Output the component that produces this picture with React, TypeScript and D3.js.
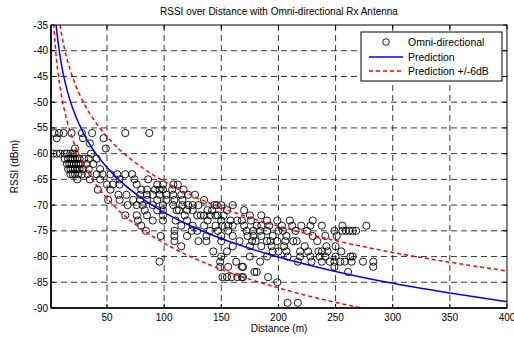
import React from "react";
import * as d3 from "d3";

const W = 514, H = 337;
const M = { left: 51, right: 507, top: 25, bottom: 308 };

const xTicks = [50, 100, 150, 200, 250, 300, 350, 400];
const yTicks = [-35, -40, -45, -50, -55, -60, -65, -70, -75, -80, -85, -90];

const predDist = [3, 4, 5, 6, 7, 10, 15, 20, 30, 40, 50, 60, 80, 100, 125, 150, 200, 250, 300, 350, 400];
const predRssi = [-27.4, -31.0, -33.8, -36.1, -38.0, -42.5, -47.6, -51.2, -56.3, -59.9, -62.7, -65.0, -68.6, -71.4, -74.2, -76.5, -80.1, -82.9, -85.2, -87.1, -88.8];
const upperRssi = [-21.4, -25.0, -27.8, -30.1, -32.0, -36.5, -41.6, -45.2, -50.3, -53.9, -56.7, -59.0, -62.6, -65.4, -68.2, -70.5, -74.1, -76.9, -79.2, -81.1, -82.8];
const lowerRssi = [-33.4, -37.0, -39.8, -42.1, -44.0, -48.5, -53.6, -57.2, -62.3, -65.9, -68.7, -71.0, -74.6, -77.4, -80.2, -82.5, -86.1, -88.9, -91.2, -93.1, -94.8];

// measured points: [distance (m), RSSI (dBm)]
const omniPoints: [number, number][] = [
  [4, -56], [8, -56], [12, -56], [19, -56], [28, -56], [37, -56], [66, -56], [87, -56],
  [6, -57], [29, -57], [47, -57], [35, -58], [22, -59], [49, -59],
  [3, -60], [6, -60], [9, -60], [13, -60], [15, -60], [18, -60], [20, -60], [22, -60], [36, -60],
  [13, -61], [16, -61], [18, -61], [20, -61], [22, -61], [24, -61], [26, -61], [30, -61], [34, -61], [41, -61],
  [15, -62], [17, -62], [19, -62], [21, -62], [23, -62], [25, -62], [27, -62], [32, -62], [38, -62],
  [16, -63], [18, -63], [20, -63], [22, -63], [24, -63], [26, -63], [29, -63], [34, -63], [44, -63],
  [18, -64], [20, -64], [22, -64], [25, -64], [28, -64], [33, -64], [41, -64], [46, -64], [53, -64], [59, -64], [66, -64], [72, -64],
  [24, -65], [35, -65], [44, -65], [61, -65], [74, -65], [86, -65],
  [50, -66], [55, -66], [61, -66], [76, -66], [94, -66], [99, -66], [108, -66], [112, -66],
  [42, -67], [53, -67], [80, -67], [85, -67], [92, -67], [96, -67], [99, -67], [107, -67], [117, -67],
  [60, -68], [67, -68], [79, -68], [85, -68], [90, -68], [96, -68], [102, -68], [108, -68], [115, -68], [121, -68], [127, -68],
  [51, -69], [61, -69], [73, -69], [79, -69], [85, -69], [94, -69], [102, -69], [109, -69], [116, -69], [135, -69],
  [68, -70], [76, -70], [81, -70], [90, -70], [99, -70], [108, -70], [116, -70], [121, -70], [125, -70], [130, -70], [144, -70], [146, -70], [150, -70], [160, -70],
  [83, -71], [94, -71], [99, -71], [111, -71], [113, -71], [120, -71], [125, -71], [138, -71], [142, -71], [155, -71], [170, -71],
  [66, -72], [76, -72], [85, -72], [99, -72], [118, -72], [129, -72], [132, -72], [135, -72], [140, -72], [145, -72], [147, -72], [152, -72], [175, -72], [185, -72],
  [77, -73], [90, -73], [99, -73], [110, -73], [120, -73], [138, -73], [150, -73], [158, -73], [164, -73], [168, -73], [176, -73], [190, -73], [199, -73], [210, -73], [230, -73],
  [80, -74], [115, -74], [125, -74], [135, -74], [145, -74], [151, -74], [156, -74], [160, -74], [170, -74], [181, -74], [185, -74], [192, -74], [203, -74], [212, -74], [220, -74], [228, -74], [238, -74], [256, -74], [277, -74],
  [84, -75], [109, -75], [124, -75], [129, -75], [140, -75], [147, -75], [156, -75], [172, -75], [178, -75], [184, -75], [190, -75], [200, -75], [204, -75], [215, -75], [225, -75], [249, -75], [256, -75], [259, -75], [262, -75], [265, -75], [268, -75],
  [97, -76], [109, -76], [120, -76], [137, -76], [150, -76], [160, -76], [173, -76], [178, -76], [185, -76], [195, -76], [207, -76], [230, -76], [241, -76], [251, -76],
  [109, -77], [130, -77], [137, -77], [150, -77], [166, -77], [177, -77], [180, -77], [190, -77], [193, -77], [199, -77], [206, -77], [213, -77], [216, -77], [234, -77],
  [115, -78], [160, -78], [175, -78], [185, -78], [194, -78], [205, -78], [223, -78], [242, -78], [250, -78],
  [143, -79], [155, -79], [195, -79], [200, -79], [207, -79], [219, -79], [226, -79], [235, -79], [238, -79], [243, -79], [255, -79],
  [150, -80], [175, -80], [190, -80], [208, -80], [219, -80], [228, -80], [236, -80], [241, -80], [250, -80], [263, -80], [265, -80],
  [96, -81], [149, -81], [163, -81], [184, -81], [217, -81], [229, -81], [238, -81], [245, -81], [249, -81], [254, -81], [258, -81], [264, -81], [274, -81], [283, -81],
  [149, -82], [156, -82], [168, -82], [169, -82], [249, -82], [283, -82],
  [179, -83], [181, -83], [261, -83],
  [151, -84], [155, -84], [159, -84], [164, -84], [168, -84], [169, -84], [191, -84],
  [199, -85],
  [208, -89], [217, -89],
];

const FONT = "'Liberation Sans', Arial, Helvetica, sans-serif";

export default function App() {
  const x = d3.scaleLinear().domain([1, 400]).range([M.left, M.right]);
  const y = d3.scaleLinear().domain([-90, -35]).range([M.bottom, M.top]);

  const mk = (vals: number[]) =>
    d3.line<number>()
      .x((_, i) => x(predDist[i]))
      .y((v) => y(v))
      .curve(d3.curveMonotoneX)(vals) || "";

  const pw = M.right - M.left;
  const ph = M.bottom - M.top;

  return (
    <svg width={W} height={H} style={{ position: "absolute", left: 0, top: 0, background: "#fff" }} fontFamily={FONT}>
      <defs>
        <clipPath id="plotClip">
          <rect x={M.left} y={M.top} width={pw} height={ph} />
        </clipPath>
      </defs>
      <rect x={0} y={0} width={W} height={H} fill="#fff" />
      <rect x={M.left} y={M.top} width={pw} height={ph} fill="#fff" />

      {/* grid */}
      <g stroke="#222" strokeWidth={0.9} strokeDasharray="6,4">
        {xTicks.filter((t) => t < 400).map((t) => (
          <line key={"gx" + t} x1={x(t)} x2={x(t)} y1={M.top} y2={M.bottom} />
        ))}
        {yTicks.filter((t) => t > -90 && t < -35).map((t) => (
          <line key={"gy" + t} x1={M.left} x2={M.right} y1={y(t)} y2={y(t)} />
        ))}
      </g>

      {/* ticks */}
      <g stroke="#000" strokeWidth={1}>
        {xTicks.map((t) => (
          <g key={"tx" + t}>
            <line x1={x(t)} x2={x(t)} y1={M.bottom} y2={M.bottom - 4} />
            <line x1={x(t)} x2={x(t)} y1={M.top} y2={M.top + 4} />
          </g>
        ))}
        {yTicks.map((t) => (
          <g key={"ty" + t}>
            <line x1={M.left} x2={M.left + 4} y1={y(t)} y2={y(t)} />
            <line x1={M.right} x2={M.right - 4} y1={y(t)} y2={y(t)} />
          </g>
        ))}
      </g>

      {/* scatter */}
      <g fill="none" stroke="#000" strokeWidth={0.9} clipPath="url(#plotClip)">
        {omniPoints.map(([d, r], i) => (
          <circle key={"p" + i} cx={x(d)} cy={y(r)} r={3.6} />
        ))}
      </g>

      {/* curves */}
      <g clipPath="url(#plotClip)" fill="none">
        <path d={mk(predRssi)} stroke="#0000ff" strokeWidth={1.5} />
        <path d={mk(upperRssi)} stroke="#ff0000" strokeWidth={1.5} strokeDasharray="4,3" />
        <path d={mk(lowerRssi)} stroke="#ff0000" strokeWidth={1.5} strokeDasharray="4,3" />
      </g>

      {/* axes box */}
      <rect x={M.left} y={M.top} width={pw} height={ph} fill="none" stroke="#000" strokeWidth={1} />
      <line x1={M.left} x2={M.left} y1={M.top} y2={M.bottom} stroke="#000" strokeWidth={1.6} />
      <line x1={M.left} x2={M.right} y1={M.bottom} y2={M.bottom} stroke="#000" strokeWidth={1.6} />

      {/* tick labels */}
      <g fontSize={10} fill="#000">
        {xTicks.map((t) => (
          <text key={"lx" + t} x={x(t)} y={M.bottom + 13} textAnchor="middle">{t}</text>
        ))}
        {yTicks.map((t) => (
          <text key={"ly" + t} x={M.left - 3} y={y(t) + 3.5} textAnchor="end">{t}</text>
        ))}
      </g>

      {/* labels */}
      <text x={(M.left + M.right) / 2} y={15} textAnchor="middle" fontSize={10}>
        RSSI over Distance with Omni-directional Rx Antenna
      </text>
      <text x={(M.left + M.right) / 2} y={332} textAnchor="middle" fontSize={10}>Distance (m)</text>
      <text transform={`translate(18, ${(M.top + M.bottom) / 2}) rotate(-90)`} textAnchor="middle" fontSize={10}>
        RSSI (dBm)
      </text>

      {/* legend */}
      <g>
        <rect x={361} y={32} width={141} height={49} fill="#fff" stroke="#000" strokeWidth={1} />
        <circle cx={386} cy={42} r={3.3} fill="none" stroke="#000" strokeWidth={0.9} />
        <line x1={369} x2={403} y1={57} y2={57} stroke="#0000ff" strokeWidth={1.5} />
        <line x1={369} x2={403} y1={71} y2={71} stroke="#ff0000" strokeWidth={1.5} strokeDasharray="4,3" />
        <g fontSize={10.5} fill="#000">
          <text x={408} y={46}>Omni-directional</text>
          <text x={408} y={61}>Prediction</text>
          <text x={408} y={75}>Prediction +/-6dB</text>
        </g>
      </g>
    </svg>
  );
}
